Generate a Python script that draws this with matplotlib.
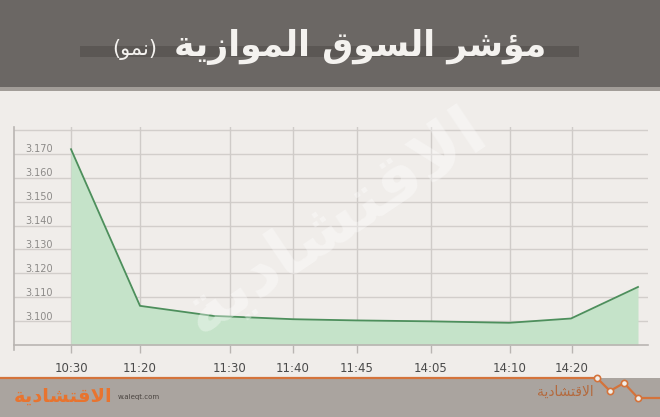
import matplotlib
matplotlib.use("Agg")
import matplotlib.pyplot as plt
from matplotlib.patches import Rectangle
from matplotlib.lines import Line2D
import matplotlib.transforms as mtransforms

# tick labels and where they sit on the (hand-spaced) time axis
time_labels = ["10:30", "11:20", "11:30", "11:40", "11:45", "14:05", "14:10", "14:20"]
tick_pos = [5.7, 12.6, 21.6, 27.9, 34.3, 41.7, 49.6, 55.8]

# index readings
point_pos = [5.7, 12.6, 19.9, 27.9, 34.2, 41.8, 49.5, 55.7, 62.4]
index_vals = [3.172, 3.1064, 3.1022, 3.1008, 3.1003, 3.0999, 3.0993, 3.1011, 3.1143]

y_ticks = [3.100, 3.110, 3.120, 3.130, 3.140, 3.150, 3.160, 3.170]
grid_y = [3.100, 3.110, 3.120, 3.130, 3.140, 3.150, 3.160, 3.170, 3.180]

# arabic text, pre-shaped (presentation forms, visual order)
title_main = "\uFE94\uFEF3\uFEAF\uFE8D\uFEEE\uFEE4\uFEDF\uFE8D \uFED5\uFEEE\uFEB4\uFEDF\uFE8D \uFEAE\uFEB7\uFE86\uFEE3"
title_sub = "(\uFEEE\uFEE4\uFEE7)"
logo = "\uFE94\uFEF3\uFEA9\uFE8E\uFEB8\uFE98\uFED7\uFEFB\uFE8D"

BG = "#f0edea"
W, H = 660, 417


def fx(px):
    return px / W


def fy(py):
    return 1 - py / H


def main():
    fig = plt.figure(figsize=(6.6, 4.17), dpi=100)
    fig.patch.set_facecolor(BG)

    # header
    fig.add_artist(Rectangle((0, fy(87)), 1, 87 / H, transform=fig.transFigure,
                             color="#6b6764", lw=0))
    fig.add_artist(Rectangle((0, fy(91)), 1, 4 / H, transform=fig.transFigure,
                             color="#a29d98", lw=0))
    fig.add_artist(Rectangle((fx(80), fy(57)), fx(499), 11 / H, transform=fig.transFigure,
                             color="#5b5754", lw=0))
    fig.text(fx(546), fy(47), title_main, ha="right", va="center", fontsize=25,
             fontweight="bold", color="#f4f2ef", family="DejaVu Sans")
    fig.text(fx(112), fy(50), title_sub, ha="left", va="center", fontsize=15,
             color="#f4f2ef", family="DejaVu Sans")

    # plot
    ax = fig.add_axes([fx(14), fy(345), fx(634), (345 - 127) / H])
    ax.set_facecolor("none")
    ax.set_xlim(0, 63.4)
    ax.set_ylim(3.090, 3.1813)
    for s in ax.spines.values():
        s.set_visible(False)

    for y in grid_y:
        ax.axhline(y, color="#d2cecb", lw=1, zorder=1)
    for x in tick_pos:
        ax.axvline(x, color="#cfcbc8", lw=1, zorder=1)

    ax.fill_between(point_pos, index_vals, 3.090, color="#c5e3c9", lw=0, zorder=2)
    ax.plot(point_pos, index_vals, color="#4d8f5c", lw=1.3, zorder=3)

    # axes lines
    ax.add_line(Line2D([0, 1], [0, 0], transform=ax.transAxes, color="#b9b5b2",
                       lw=1.2, clip_on=False, zorder=4))
    ax.add_line(Line2D([0, 0], [-0.025, 1.0], transform=ax.transAxes, color="#b9b5b2",
                       lw=1.2, clip_on=False, zorder=4))

    ax.set_xticks(tick_pos)
    ax.set_xticklabels(time_labels, fontsize=8.5, color="#4a4a4a")
    ax.tick_params(axis="x", length=6, color="#b9b5b2", width=1, pad=6)
    ax.set_yticks([])

    trans = mtransforms.blended_transform_factory(ax.transAxes, ax.transData)
    for y in y_ticks:
        ax.text(0.0175, y + 0.0019, f"{y:.3f}", transform=trans, ha="left", va="center",
                fontsize=7, color="#8c8a88")

    # watermark
    fig.text(fx(335), fy(222), logo, ha="center", va="center", fontsize=50,
             fontweight="bold", color="white", alpha=0.35, rotation=34,
             family="DejaVu Sans", zorder=5)

    # footer
    fig.add_artist(Rectangle((0, 0), 1, (H - 378) / H, transform=fig.transFigure,
                             color="#aaa49f", lw=0))
    zx = [0, 597, 610, 624, 638, 660]
    zy = [378, 378, 391, 383, 398, 398]
    fig.add_artist(Line2D([fx(v) for v in zx], [fy(v) for v in zy],
                          transform=fig.transFigure, color="#d4733b", lw=1.6))
    fig.add_artist(Line2D([fx(v) for v in zx[1:5]], [fy(v) for v in zy[1:5]],
                          transform=fig.transFigure, color="#d4733b", lw=0, marker="o",
                          markersize=4.5, markerfacecolor="#f3efe9", markeredgewidth=1.2))
    fig.text(fx(14), fy(396), logo, ha="left", va="center", fontsize=14,
             fontweight="bold", color="#e8742f", family="DejaVu Sans")
    fig.text(fx(118), fy(397), "w.aleqt.com", ha="left", va="center", fontsize=5,
             color="#4a4440")
    fig.text(fx(594), fy(392), logo, ha="right", va="center", fontsize=10,
             color="#b46a3e", family="DejaVu Sans")

    fig.savefig("out.png", dpi=100, facecolor=BG)


if __name__ == "__main__":
    main()
